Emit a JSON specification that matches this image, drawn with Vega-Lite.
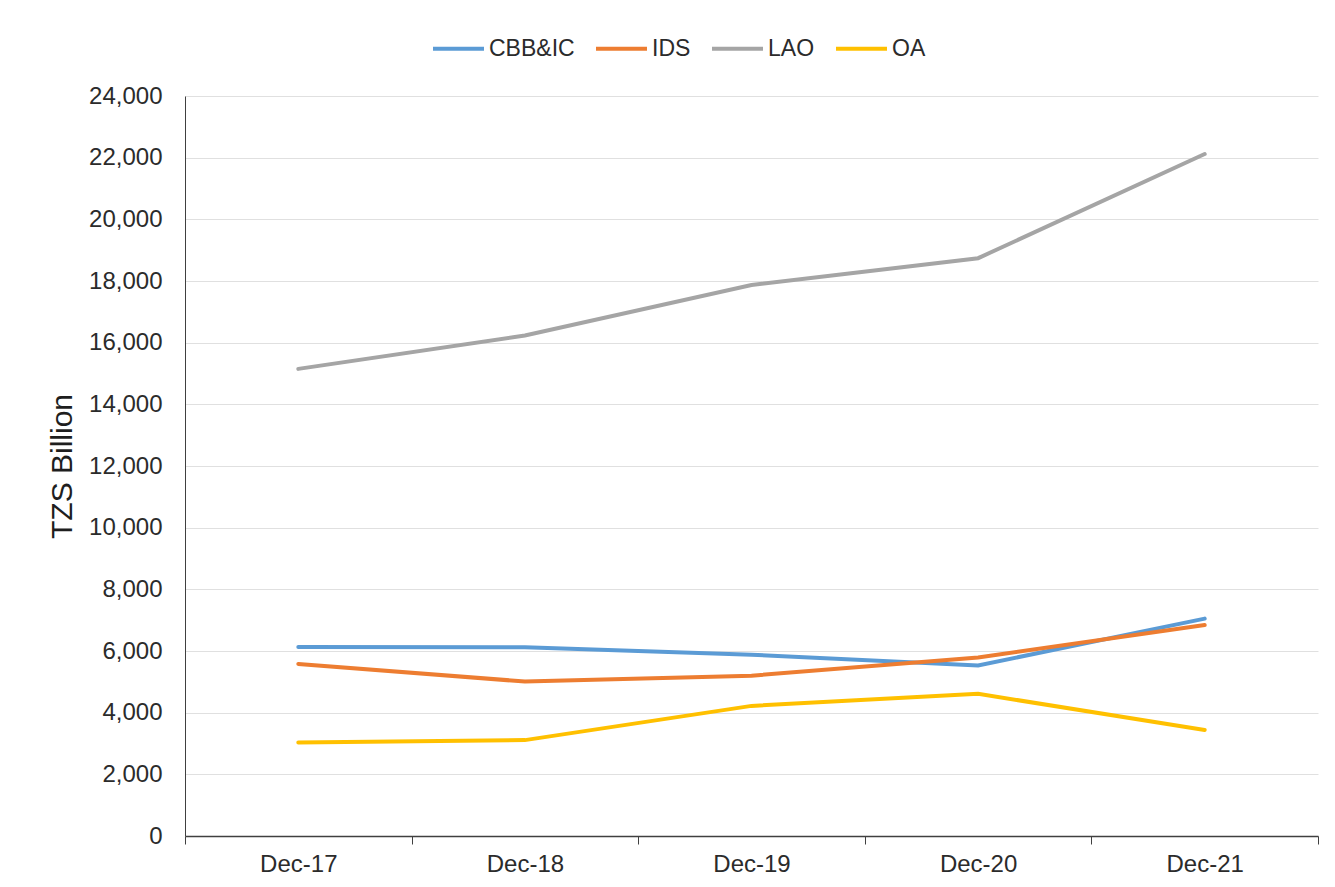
{
  "$schema": "https://vega.github.io/schema/vega-lite/v6.json",
  "width": 1133,
  "height": 740,
  "autosize": "none",
  "padding": {"left": 185, "top": 96, "right": 17, "bottom": 51},
  "background": "white",
  "config": {
    "view": {"stroke": null},
    "font": "Liberation Sans",
    "axis": {"labelFont": "Liberation Sans", "titleFont": "Liberation Sans", "labelColor": "#2b2b2b", "titleColor": "#1e1e1e"}
  },
  "data": {
    "values": [
      {"period": "Dec-17", "series": "CBB&IC", "value": 6130},
      {"period": "Dec-18", "series": "CBB&IC", "value": 6120},
      {"period": "Dec-19", "series": "CBB&IC", "value": 5880},
      {"period": "Dec-20", "series": "CBB&IC", "value": 5530},
      {"period": "Dec-21", "series": "CBB&IC", "value": 7050},
      {"period": "Dec-17", "series": "IDS", "value": 5580},
      {"period": "Dec-18", "series": "IDS", "value": 5010},
      {"period": "Dec-19", "series": "IDS", "value": 5200},
      {"period": "Dec-20", "series": "IDS", "value": 5790},
      {"period": "Dec-21", "series": "IDS", "value": 6840},
      {"period": "Dec-17", "series": "LAO", "value": 15150},
      {"period": "Dec-18", "series": "LAO", "value": 16230},
      {"period": "Dec-19", "series": "LAO", "value": 17870},
      {"period": "Dec-20", "series": "LAO", "value": 18740},
      {"period": "Dec-21", "series": "LAO", "value": 22120},
      {"period": "Dec-17", "series": "OA", "value": 3030},
      {"period": "Dec-18", "series": "OA", "value": 3110},
      {"period": "Dec-19", "series": "OA", "value": 4220},
      {"period": "Dec-20", "series": "OA", "value": 4610},
      {"period": "Dec-21", "series": "OA", "value": 3440}
    ]
  },
  "mark": {"type": "line", "strokeWidth": 4, "strokeCap": "round"},
  "encoding": {
    "x": {
      "field": "period",
      "type": "ordinal",
      "bandPosition": 0.5,
      "scale": {"type": "band", "paddingInner": 0, "paddingOuter": 0},
      "axis": {
        "title": null,
        "labelAngle": 0,
        "labelFontSize": 24,
        "labelPadding": 8,
        "tickBand": "extent",
        "ticks": true,
        "tickSize": 8,
        "tickColor": "#404040",
        "domainColor": "#404040",
        "domainWidth": 1.5,
        "grid": false
      }
    },
    "y": {
      "field": "value",
      "type": "quantitative",
      "scale": {"domain": [0, 24000], "nice": false},
      "axis": {
        "title": "TZS Billion",
        "titleFontSize": 30,
        "titleFontWeight": "normal",
        "titlePadding": 11,
        "values": [0, 2000, 4000, 6000, 8000, 10000, 12000, 14000, 16000, 18000, 20000, 22000, 24000],
        "format": ",d",
        "labelFontSize": 24,
        "labelPadding": 23,
        "ticks": false,
        "domainColor": "#404040",
        "domainWidth": 1,
        "grid": true,
        "gridColor": "#e0e0e0",
        "gridWidth": 1
      }
    },
    "color": {
      "field": "series",
      "type": "nominal",
      "scale": {"domain": ["CBB&IC", "IDS", "LAO", "OA"], "range": ["#5B9BD5", "#ED7D31", "#A5A5A5", "#FFC000"]},
      "legend": {
        "title": null,
        "orient": "none",
        "direction": "horizontal",
        "legendX": 246,
        "legendY": -75,
        "symbolType": "stroke",
        "symbolSize": 2600,
        "symbolStrokeWidth": 4,
        "labelFontSize": 23,
        "labelColor": "#2b2b2b",
        "labelOffset": 3,
        "columnPadding": 13
      }
    }
  }
}
